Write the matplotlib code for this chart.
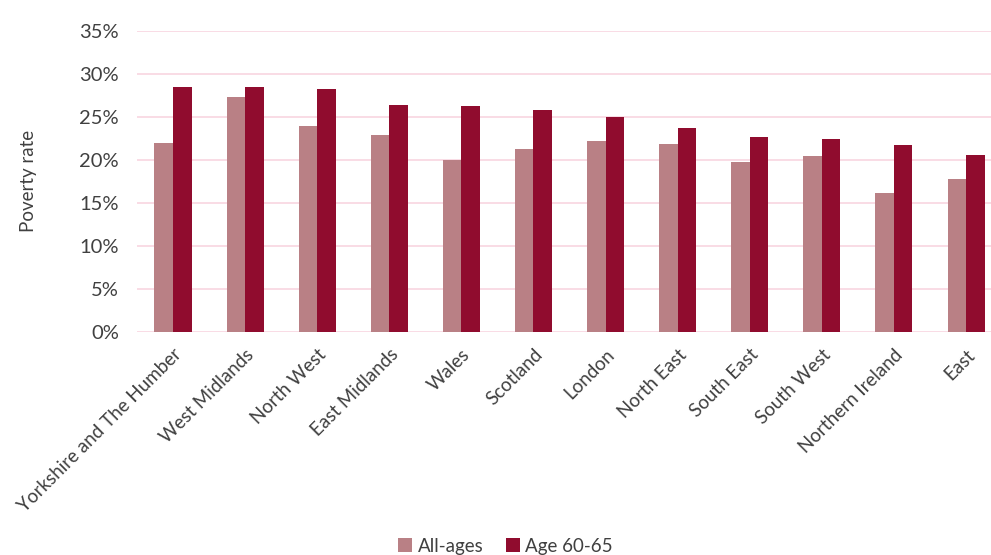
import matplotlib
matplotlib.use("Agg")
import matplotlib.pyplot as plt
import numpy as np
from matplotlib.ticker import PercentFormatter

regions = ["Yorkshire and The Humber", "West Midlands", "North West", "East Midlands",
           "Wales", "Scotland", "London", "North East", "South East", "South West",
           "Northern Ireland", "East"]
all_ages = [22.0, 27.3, 23.9, 22.9, 20.0, 21.3, 22.2, 21.8, 19.8, 20.4, 16.2, 17.8]
age_60_65 = [28.5, 28.4, 28.2, 26.4, 26.3, 25.8, 25.0, 23.7, 22.6, 22.4, 21.7, 20.6]
yticks = [0, 5, 10, 15, 20, 25, 30, 35]

plt.rcParams['font.family'] = ['Lato', 'DejaVu Sans']
text_color = "#404040"
light = "#B98085"
dark = "#900C2E"
grid = "#F9D9E3"

fig = plt.figure(figsize=(9.91, 5.55), dpi=100)
ax = fig.add_axes([0.1382, 0.4018, 0.873, 0.543])

x = np.arange(len(regions))
w = 0.257
ax.bar(x - w / 2, all_ages, w, color=light, label="All-ages", zorder=3)
ax.bar(x + w / 2, age_60_65, w, color=dark, label="Age 60-65", zorder=3)

ax.set_xlim(-0.5, len(regions) - 0.5)
ax.set_ylim(0, 35)
ax.set_yticks(yticks)
ax.yaxis.set_major_formatter(PercentFormatter(decimals=0))
ax.yaxis.grid(True, color=grid, linewidth=1.3, zorder=0)
for s in ax.spines.values():
    s.set_visible(False)
ax.tick_params(axis='both', length=0, colors=text_color, labelsize=13.5)
ax.tick_params(axis='y', labelsize=14.5, pad=13)

ax.set_xticks(x)
ax.set_xticklabels(regions, rotation=45, ha='right', rotation_mode='anchor')
ax.tick_params(axis='x', pad=10)

ax.set_ylabel("Poverty rate", color=text_color, fontsize=13.5)
ax.yaxis.set_label_coords(-0.115, 0.5)

fig.legend(loc='lower center', bbox_to_anchor=(0.51, -0.03), ncol=2, frameon=False,
           fontsize=13.5, handlelength=0.75, handleheight=0.75, handletextpad=0.3,
           columnspacing=1.2, labelcolor=text_color)

fig.savefig("out.png", dpi=100)
